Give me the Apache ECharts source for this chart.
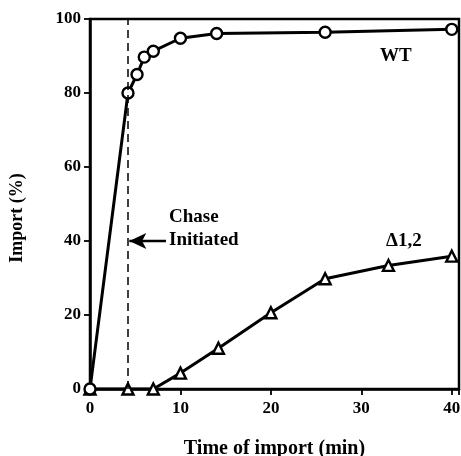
<!DOCTYPE html>
<html>
<head>
<meta charset="utf-8">
<script src="https://cdn.jsdelivr.net/npm/echarts@6/dist/echarts.min.js"></script>
<style>
html,body{margin:0;padding:0;background:#fff;}
#chart{width:461px;height:456px;}
</style>
</head>
<body>
<div id="chart"></div>
<script>
// Data
const wtTimes = [0, 4.2, 5.2, 6, 7, 10, 14, 26, 40];
const wtImport = [0, 80, 85, 89.7, 91.3, 94.8, 96.1, 96.4, 97.2];
const dTimes = [0, 4.2, 7, 10, 14.2, 20, 26, 33, 40];
const dImport = [0, 0, 0, 4.3, 11, 20.6, 29.8, 33.4, 35.9];
const xTicks = [0, 10, 20, 30, 40];
const yTicks = [0, 20, 40, 60, 80, 100];
const chaseTime = 4.2;
const arrowFrom = [8.4, 40];
const arrowTo = [4.35, 40];
const seriesLabels = ['WT', '\u03941,2'];

const font = '"Liberation Serif", "Times New Roman", serif';
const chart = echarts.init(document.getElementById('chart'));
const toPairs = (xs, ys) => xs.map((x, i) => [x, ys[i]]);

chart.setOption({
  animation: false,
  backgroundColor: '#fff',
  grid: { left: 90, right: 2, top: 19, bottom: 67, show: true, borderColor: '#000', borderWidth: 2.5, containLabel: false, outerBoundsMode: 'none' },
  xAxis: {
    type: 'value', min: 0, max: 40.8, interval: 10,
    name: 'Time of import (min)', nameLocation: 'middle', nameGap: 50,
    nameTextStyle: { fontFamily: font, fontWeight: 'bold', fontSize: 20, color: '#000' },
    axisLine: { show: true, lineStyle: { color: '#000', width: 2.5 } },
    axisTick: { show: true, inside: false, length: 6, lineStyle: { color: '#000', width: 1.8 } },
    axisLabel: { fontFamily: font, fontWeight: 'bold', fontSize: 17, color: '#000', margin: 11, customValues: xTicks },
    splitLine: { show: false }
  },
  yAxis: {
    type: 'value', min: 0, max: 100, interval: 20,
    axisLine: { show: true, lineStyle: { color: '#000', width: 2.5 } },
    axisTick: { show: true, inside: false, length: 6, lineStyle: { color: '#000', width: 1.8 } },
    axisLabel: { fontFamily: font, fontWeight: 'bold', fontSize: 17, color: '#000', margin: 9, customValues: yTicks },
    splitLine: { show: false }
  },
  series: [
    {
      name: seriesLabels[1], type: 'line', data: toPairs(dTimes, dImport),
      symbol: 'triangle', symbolSize: 11,
      lineStyle: { color: '#000', width: 3 },
      itemStyle: { color: '#fff', borderColor: '#000', borderWidth: 2.4 },
      z: 3,
      markLine: {
        silent: true, symbol: ['none', 'none'],
        label: { show: false },
        lineStyle: { color: '#000', type: [8, 5], width: 1.5 },
        data: [{ xAxis: chaseTime }]
      }
    },
    {
      name: seriesLabels[0], type: 'line', data: toPairs(wtTimes, wtImport),
      symbol: 'circle', symbolSize: 11,
      lineStyle: { color: '#000', width: 3 },
      itemStyle: { color: '#fff', borderColor: '#000', borderWidth: 2.4 },
      z: 4,
      markLine: {
        silent: true, symbol: ['none', 'arrow'], symbolSize: [12, 17],
        label: { show: false },
        lineStyle: { color: '#000', type: 'solid', width: 2.4 },
        data: [[{ coord: arrowFrom }, { coord: arrowTo }]]
      }
    }
  ],
  graphic: [
    { type: 'text', left: 380, top: 47, style: { text: seriesLabels[0], font: 'bold 19px ' + font, fill: '#000' } },
    { type: 'text', left: 386, top: 232, style: { text: seriesLabels[1], font: 'bold 19px ' + font, fill: '#000' } },
    { type: 'text', left: 169, top: 208, style: { text: 'Chase', font: 'bold 19px ' + font, fill: '#000' } },
    { type: 'text', left: 169, top: 231, style: { text: 'Initiated', font: 'bold 19px ' + font, fill: '#000' } },
    { type: 'text', x: 17, y: 218, rotation: Math.PI / 2, style: { text: 'Import (%)', font: 'bold 18px ' + font, fill: '#000', align: 'center', verticalAlign: 'middle' } }
  ]
});
</script>
</body>
</html>
